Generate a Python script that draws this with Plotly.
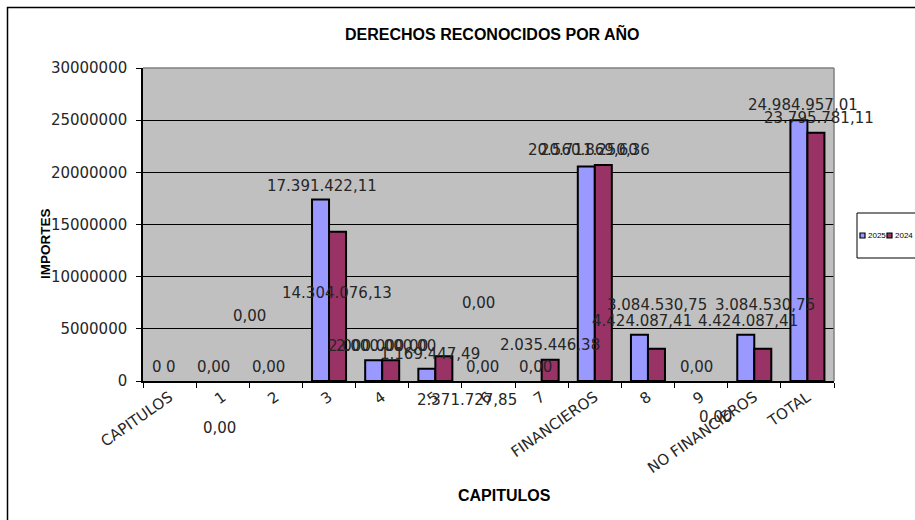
import plotly.graph_objects as go

categories = ["CAPITULOS", "1", "2", "3", "4", "5", "6", "7", "FINANCIEROS",
              "8", "9", "NO FINANCIEROS", "TOTAL"]
values_2025 = [0, 0, 0, 17391422.11, 2000000.00, 1169447.49, 0, 0, 20560869.60,
               4424087.41, 0, 4424087.41, 24984957.01]
values_2024 = [0, 0, 0, 14304076.13, 2000000.00, 2371727.85, 0, 2035446.38, 20711250.36,
               3084530.75, 0, 3084530.75, 23795781.11]
series_names = ["2025", "2024"]
y_ticks = [0, 5000000, 10000000, 15000000, 20000000, 25000000, 30000000]


def fmt(v):
    s = f"{v:,.2f}"
    return s.replace(",", "X").replace(".", ",").replace("X", ".")


labels_2025 = ["0" if c == "CAPITULOS" else fmt(v) for c, v in zip(categories, values_2025)]
labels_2024 = ["0" if c == "CAPITULOS" else fmt(v) for c, v in zip(categories, values_2024)]

# pixel shifts of the (messy) data labels relative to (category centre, bar value)
shift_2025 = [(-13, 14), (-9, 14), (-7, 14), (-7, 14), (-4, 14), (-5, 15), (-6, 14),
              (-6, 14), (-12, 16), (-6, 14), (-5, 14), (-6, 14), (-4, 15)]
shift_2024 = [(1, 14), (-3, -47), (-26, 65), (8, -61), (4, 14), (32, -44), (-10, 78),
              (8, 15), (0, 15), (9, 44), (14, -36), (11, 44), (12, 15)]

BLUE = "#9999FF"
RED = "#993366"
L, R, T, B = 143, 81, 68, 139
W, H = 915, 520
PW, PH = W - L - R, H - T - B


def px(x):
    return (x - L) / PW


def py(y):
    return (H - B - y) / PH


def outline(vals):
    return [0 if v == 0 else 2 for v in vals]


fig = go.Figure()
fig.add_trace(go.Bar(x=categories, y=values_2025, name=series_names[0],
                     marker=dict(color=BLUE, line=dict(color="black", width=outline(values_2025)))))
fig.add_trace(go.Bar(x=categories, y=values_2024, name=series_names[1],
                     marker=dict(color=RED, line=dict(color="black", width=outline(values_2024)))))

ann = []
label_font = dict(family="DejaVu Sans", size=15, color="#262626")
for vals, labs, shifts in ((values_2025, labels_2025, shift_2025),
                           (values_2024, labels_2024, shift_2024)):
    for i, (v, t, (dx, dy)) in enumerate(zip(vals, labs, shifts)):
        ann.append(dict(x=i, y=v, xref="x", yref="y", text=t, showarrow=False,
                        xanchor="center", yanchor="middle", xshift=dx, yshift=dy,
                        font=label_font))

# title and axis titles
ann.append(dict(x=px(492), y=py(33), xref="paper", yref="paper",
                text="<b>DERECHOS RECONOCIDOS POR AÑO</b>", showarrow=False,
                xanchor="center", yanchor="middle",
                font=dict(family="Liberation Sans", size=16, color="black")))
ann.append(dict(x=px(45), y=py(244), xref="paper", yref="paper",
                text="<b>IMPORTES</b>", showarrow=False, textangle=-90,
                xanchor="center", yanchor="middle",
                font=dict(family="Liberation Sans", size=13.5, color="black")))
ann.append(dict(x=px(505), y=py(495), xref="paper", yref="paper",
                text="<b>CAPITULOS</b>", showarrow=False,
                xanchor="center", yanchor="middle",
                font=dict(family="Liberation Sans", size=16, color="black")))

# legend (manual, as in the original cropped legend box)
shapes = []
leg_font = dict(family="Liberation Sans", size=8, color="black")
for i, (name, col) in enumerate(zip(series_names, [BLUE, RED])):
    x0 = 860 + i * 27
    shapes.append(dict(type="rect", xref="paper", yref="paper",
                       x0=px(x0), x1=px(x0 + 5), y0=py(238), y1=py(233),
                       fillcolor=col, line=dict(color="black", width=1.2)))
    ann.append(dict(x=px(x0 + 6), y=py(235.5), xref="paper", yref="paper",
                    text=name, showarrow=False, xanchor="left", yanchor="middle",
                    font=leg_font))
shapes.append(dict(type="rect", xref="paper", yref="paper",
                   x0=px(857), x1=px(960), y0=py(258), y1=py(213),
                   fillcolor="white", line=dict(color="black", width=1), layer="below"))
# chart area border
shapes.append(dict(type="rect", xref="paper", yref="paper",
                   x0=px(7.5), x1=px(990), y0=py(600), y1=py(7.5),
                   line=dict(color="black", width=1.5), layer="below"))
# plot area border (top and right, gray)
shapes.append(dict(type="line", xref="paper", yref="paper", x0=0, x1=1, y0=1, y1=1,
                   line=dict(color="#808080", width=1.5)))
shapes.append(dict(type="line", xref="paper", yref="paper", x0=1, x1=1, y0=0, y1=1,
                   line=dict(color="#808080", width=1.5)))

tick_font = dict(family="DejaVu Sans", size=15, color="#262626")
fig.update_layout(
    width=W, height=H,
    margin=dict(l=L, r=R, t=T, b=B, pad=0),
    paper_bgcolor="white", plot_bgcolor="#C0C0C0",
    barmode="group", bargap=0.36, bargroupgap=0,
    showlegend=False,
    annotations=ann, shapes=shapes,
    xaxis=dict(type="category", range=[-0.5, len(categories) - 0.5],
               tickson="boundaries", ticks="outside", ticklen=5,
               tickcolor="black", showline=True, linecolor="black", linewidth=1.5,
               showgrid=False, tickangle=-35, tickfont=tick_font, automargin=False),
    yaxis=dict(range=[0, 30000000], tickvals=y_ticks, tickformat="d",
               ticks="outside", ticklen=5, tickcolor="black", ticklabelstandoff=6,
               showline=True, linecolor="black", linewidth=1.5,
               showgrid=True, gridcolor="black", gridwidth=1,
               zeroline=False, tickfont=tick_font, automargin=False),
)

fig.write_html("out.html", config={"displayModeBar": False},
               post_script="document.body.style.margin='0';document.body.style.overflow='hidden';")
